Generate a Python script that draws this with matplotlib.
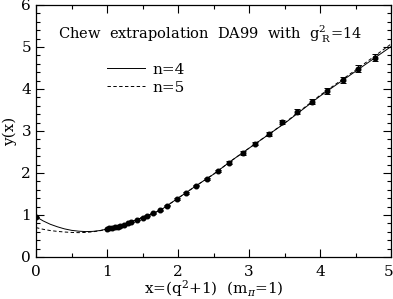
import matplotlib
matplotlib.use("Agg")
import matplotlib.pyplot as plt
from matplotlib.ticker import MultipleLocator, FuncFormatter

plt.rcParams['font.family'] = ['DejaVu Serif']
plt.rcParams['mathtext.fontset'] = 'dejavuserif'

# Data points (x = q^2+1, y(x)) with errors
x_pts = [0.0, 1.0, 1.03, 1.07, 1.11, 1.15, 1.19, 1.24, 1.29, 1.34, 1.42, 1.50, 1.57, 1.65,
         1.75, 1.85, 1.98, 2.11, 2.26, 2.41, 2.57, 2.72, 2.91, 3.09, 3.28, 3.47, 3.68,
         3.89, 4.10, 4.32, 4.54, 4.77]
y_pts = [0.96, 0.67, 0.68, 0.69, 0.71, 0.72, 0.75, 0.77, 0.80, 0.83, 0.88, 0.94, 0.98, 1.04,
         1.11, 1.22, 1.38, 1.53, 1.70, 1.86, 2.05, 2.25, 2.48, 2.70, 2.93, 3.21, 3.46,
         3.70, 3.96, 4.21, 4.48, 4.75]
y_err = [0.0, 0.0, 0.0, 0.0, 0.0, 0.0, 0.0, 0.0, 0.0, 0.0, 0.0, 0.01, 0.01, 0.01,
         0.01, 0.01, 0.02, 0.02, 0.02, 0.02, 0.03, 0.03, 0.04, 0.04, 0.05, 0.05, 0.06,
         0.06, 0.07, 0.07, 0.08, 0.09]

# Fit curves
x_n4 = [0.0, 0.1, 0.2, 0.3, 0.4, 0.5, 0.6, 0.7, 0.8, 0.9, 1.0, 1.25, 1.5, 1.75, 2.0,
        2.25, 2.5, 2.75, 3.0, 3.5, 4.0, 4.5, 5.0]
y_n4 = [0.96, 0.86, 0.78, 0.72, 0.67, 0.635, 0.615, 0.605, 0.61, 0.63, 0.665, 0.78, 0.94,
        1.11, 1.40, 1.69, 1.97, 2.29, 2.59, 3.18, 3.83, 4.42, 5.01]
x_n5 = [0.0, 0.1, 0.2, 0.3, 0.4, 0.5, 0.6, 0.7, 0.8, 0.9, 1.0, 1.25, 1.5, 1.75, 2.0,
        2.25, 2.5, 2.75, 3.0, 3.5, 4.0, 4.5, 5.0]
y_n5 = [0.70, 0.66, 0.63, 0.61, 0.595, 0.585, 0.58, 0.585, 0.60, 0.625, 0.665, 0.78, 0.94,
        1.11, 1.40, 1.69, 1.97, 2.29, 2.59, 3.19, 3.85, 4.45, 5.07]

x_max = 5

fig = plt.figure(figsize=(3.93, 2.99), dpi=100)
ax = fig.add_axes([36/393, 1 - 257/299, 355/393, 252/299])

ax.plot(x_n4, y_n4, color='black', lw=0.7, ls='-', label='n=4')
ax.plot(x_n5, y_n5, color='black', lw=0.7, ls=(0, (3.5, 2.5)), label='n=5')
ax.errorbar(x_pts, y_pts, yerr=y_err, fmt='o', color='black', ms=3.3,
            elinewidth=0.7, capsize=2, capthick=0.7)

ax.set_xlim(0, x_max)
ax.set_ylim(0, 6)
ax.xaxis.set_major_locator(MultipleLocator(1))
ax.xaxis.set_minor_locator(MultipleLocator(0.5))
ax.xaxis.set_major_formatter(FuncFormatter(lambda v, p: '' if v >= x_max else f"{v:g}"))
ax.yaxis.set_major_locator(MultipleLocator(1))
ax.yaxis.set_minor_locator(MultipleLocator(0.2))
ax.tick_params(which='both', direction='in', top=True, right=True, labelsize=11, width=0.8)
ax.tick_params(which='major', length=6)
ax.tick_params(which='minor', length=3)
ax.tick_params(axis='x', pad=6)
for s in ax.spines.values():
    s.set_linewidth(0.9)
# last x tick label kept inside the figure
ax.annotate(f"{x_max:g}", xy=(x_max, 0), xycoords=('data', 'axes fraction'),
            xytext=(2, -6), textcoords='offset points', ha='right', va='top', fontsize=11)

ax.set_xlabel(r"x=(q$^{2}$+1)  (m$_{\pi}$=1)", fontsize=11, labelpad=-1)
ax.set_ylabel("y(x)", fontsize=11, labelpad=3)

ax.text(0.31, 5.3, r"Chew  extrapolation  DA99  with  g$^{2}_{\ \mathrm{R}}$=14",
        fontsize=10.5, va='center', ha='left')

ax.legend(loc='upper left', bbox_to_anchor=(0.183, 0.795), frameon=False,
          handlelength=2.5, labelspacing=0.25, fontsize=11, handletextpad=0.5,
          borderaxespad=0)

fig.savefig("out.png", dpi=100)
